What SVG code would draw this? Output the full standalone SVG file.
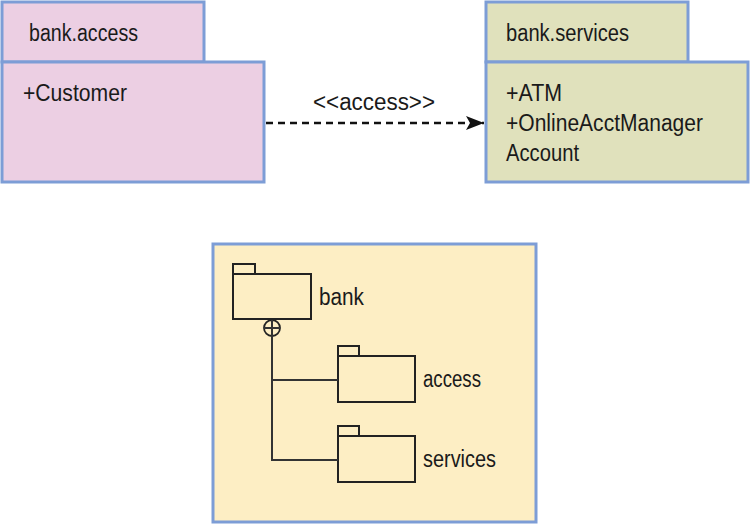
<svg xmlns="http://www.w3.org/2000/svg" width="750" height="525" viewBox="0 0 750 525">
<style>
.pk{stroke:#7d9dd6;stroke-width:3}
.pink{fill:#eccfe3}
.green{fill:#e0e1bc}
.t{font-family:"Liberation Sans",Arial,sans-serif;font-size:23.5px;fill:#1a1a1a}
.f{fill:#fdeec4;stroke:#7d9dd6;stroke-width:3}
.fold{fill:none;stroke:#222;stroke-width:2}
.ln{stroke:#333;stroke-width:2;fill:none}
</style>
<defs>
<marker id="ah" markerWidth="18" markerHeight="14" refX="18" refY="7" orient="auto" markerUnits="userSpaceOnUse">
<path d="M0,0 L18,7 L0,14 L4,7 Z" fill="#111"/>
</marker>
</defs>
<rect width="750" height="525" fill="#fff"/>
<g id="bank.access">
<rect class="pk pink" x="2" y="2" width="202" height="60"/>
<rect class="pk pink" x="2" y="62" width="262" height="120"/>
<text class="t" x="29" y="41" textLength="109" lengthAdjust="spacingAndGlyphs">bank.access</text>
<text class="t" x="23" y="101" textLength="104" lengthAdjust="spacingAndGlyphs">+Customer</text>
</g>
<g id="bank.services">
<rect class="pk green" x="486" y="2" width="202" height="60"/>
<rect class="pk green" x="486" y="62" width="262" height="120"/>
<text class="t" x="506" y="41" textLength="123" lengthAdjust="spacingAndGlyphs">bank.services</text>
<text class="t" x="506" y="101" textLength="56" lengthAdjust="spacingAndGlyphs">+ATM</text>
<text class="t" x="506" y="131" textLength="197" lengthAdjust="spacingAndGlyphs">+OnlineAcctManager</text>
<text class="t" x="506" y="161" textLength="73" lengthAdjust="spacingAndGlyphs">Account</text>
</g>
<g id="connectors">
<line x1="266" y1="123" x2="484" y2="123" stroke="#111" stroke-width="2.5" stroke-dasharray="7,5" marker-end="url(#ah)"/>
<text class="t" x="313" y="110" textLength="122" lengthAdjust="spacingAndGlyphs">&lt;&lt;access&gt;&gt;</text>
</g>
<g id="containment">
<rect class="f" x="213" y="244" width="323" height="278"/>
<g id="bank">
<rect class="fold" x="233" y="264" width="22" height="10"/>
<rect class="fold" x="233" y="274" width="78" height="45"/>
<text class="t" x="319" y="305" textLength="45" lengthAdjust="spacingAndGlyphs">bank</text>
</g>
<g id="access">
<rect class="fold" x="338" y="346" width="21" height="10"/>
<rect class="fold" x="338" y="356" width="77" height="46"/>
<text class="t" x="423" y="387" textLength="58" lengthAdjust="spacingAndGlyphs">access</text>
</g>
<g id="services">
<rect class="fold" x="338" y="426" width="21" height="10"/>
<rect class="fold" x="338" y="436" width="77" height="46"/>
<text class="t" x="423" y="467" textLength="73" lengthAdjust="spacingAndGlyphs">services</text>
</g>
<g id="nesting">
<circle cx="272" cy="328" r="8" fill="none" stroke="#222" stroke-width="1.8"/>
<line class="ln" x1="264" y1="328" x2="280" y2="328"/>
<line class="ln" x1="272" y1="320" x2="272" y2="460"/>
<line class="ln" x1="271" y1="380" x2="338" y2="380"/>
<line class="ln" x1="271" y1="460" x2="338" y2="460"/>
</g>
</g>
</svg>
